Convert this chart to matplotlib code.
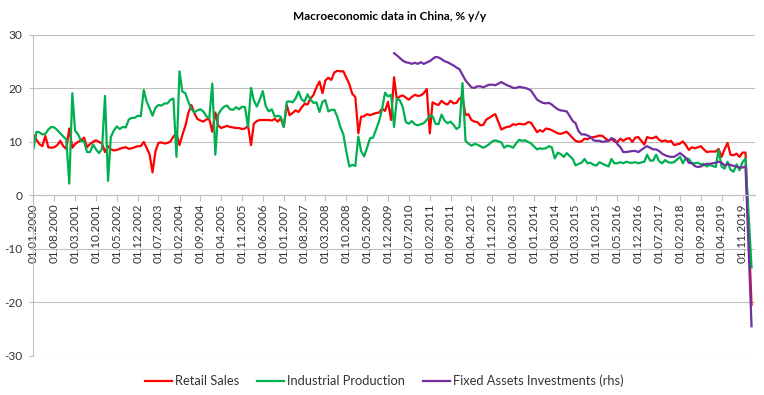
import matplotlib
matplotlib.use('Agg')
import matplotlib.pyplot as plt
import numpy as np
import pandas as pd

plt.rcParams['font.family'] = ['Lato', 'DejaVu Sans']
plt.rcParams['axes.unicode_minus'] = False

nan = np.nan

# monthly, % y/y, Jan 2000 .. Feb 2020
retail_sales = [
    11.3, 10.4, 9.6, 9.2, 11.1, 9.0, 8.9, 9.0, 9.4, 10.2, 9.2, 8.7,        # 2000
    12.5, 8.9, 9.6, 10.0, 10.3, 10.8, 9.0, 9.6, 10.0, 10.3, 10.0, 9.7,     # 2001
    8.1, 9.2, 8.6, 8.4, 8.5, 8.7, 8.9, 9.0, 8.7, 8.8, 9.0, 9.2,            # 2002
    9.2, 10.0, 8.9, 7.7, 4.3, 8.3, 9.8, 9.9, 9.7, 9.8, 10.1, 11.0,         # 2003
    11.6, 9.4, 11.3, 13.0, 15.4, 16.9, 15.4, 14.3, 14.0, 13.8, 14.2, 14.3, # 2004
    11.9, 15.5, 13.1, 12.6, 12.8, 13.0, 12.8, 12.7, 12.6, 12.6, 12.4, 12.5,
    13.0, 9.4, 13.4, 13.9, 14.1, 14.1, 14.1, 14.1, 14.0, 14.3, 13.8, 14.4,
    12.8, 16.9, 15.0, 15.4, 15.9, 15.6, 16.4, 17.1, 17.0, 18.1, 18.8, 20.2,
    21.3, 19.1, 21.5, 22.0, 21.6, 23.0, 23.3, 23.2, 23.2, 22.0, 20.8, 19.0,
    18.4, 11.6, 14.7, 14.8, 15.2, 15.0, 15.2, 15.4, 15.5, 16.2, 15.8, 17.5,
    14.1, 22.1, 18.0, 18.5, 18.7, 18.3, 17.9, 18.4, 18.8, 18.6, 18.7, 19.1, # 2010
    19.9, 11.6, 17.4, 17.1, 16.9, 17.7, 17.2, 17.0, 17.7, 17.2, 17.3, 18.1,
    18.4, 15.0, 15.2, 14.1, 13.8, 13.7, 13.1, 13.2, 14.2, 14.5, 14.9, 15.2,
    nan, 12.3, 12.6, 12.8, 12.9, 13.3, 13.2, 13.4, 13.3, 13.3, 13.7, 13.6,
    nan, 11.8, 12.2, 11.9, 12.5, 12.4, 12.2, 11.9, 11.6, 11.5, 11.7, 11.9,
    nan, 10.7, 10.2, 10.0, 10.1, 10.6, 10.5, 10.8, 10.9, 11.0, 11.2, 11.1,
    nan, 10.2, 10.5, 10.1, 10.0, 10.6, 10.2, 10.6, 10.7, 10.0, 10.8, 10.9,
    nan, 9.5, 10.9, 10.7, 10.7, 11.0, 10.4, 10.1, 10.3, 10.0, 10.2, 9.4,
    nan, 9.7, 10.1, 9.4, 8.5, 9.0, 8.8, 9.0, 9.2, 8.6, 8.1, 8.2,
    nan, 8.2, 8.7, 7.2, 8.6, 9.8, 7.6, 7.5, 7.8, 7.2, 8.0, 8.0,            # 2019
    nan, -20.5,                                                            # 2020
]

industrial_production = [
    8.8, 11.9, 11.8, 11.4, 11.5, 12.3, 12.8, 12.7, 12.2, 11.6, 11.0, 10.5,
    2.2, 19.1, 12.1, 11.4, 10.2, 10.1, 8.1, 8.1, 9.5, 8.6, 7.9, 8.7,
    18.6, 2.7, 10.9, 12.1, 12.9, 12.4, 12.8, 12.7, 14.2, 14.5, 14.5, 14.9,
    14.8, 19.7, 17.6, 16.3, 14.9, 16.4, 16.9, 16.8, 17.2, 17.2, 17.9, 18.1,
    7.2, 23.2, 19.4, 19.1, 17.5, 16.2, 15.5, 15.9, 16.1, 15.7, 14.8, 14.4,
    20.9, 7.6, 15.1, 16.0, 16.6, 16.8, 16.1, 16.0, 16.5, 16.1, 16.6, 16.5,
    12.8, 20.1, 17.8, 16.6, 17.9, 19.5, 16.7, 15.7, 16.1, 14.7, 14.9, 14.7,
    12.8, 17.5, 17.6, 17.4, 18.1, 19.4, 18.0, 17.5, 18.9, 17.9, 17.3, 17.4,
    15.6, 17.5, 17.8, 15.7, 16.0, 16.0, 14.7, 12.8, 11.4, 8.2, 5.4, 5.7,
    5.5, 11.0, 8.3, 7.3, 8.9, 10.7, 10.8, 12.3, 13.9, 16.1, 19.2, 18.5,
    18.8, 12.8, 18.1, 17.8, 16.5, 13.7, 13.4, 13.9, 13.3, 13.1, 13.3, 13.5,
    14.1, 14.9, 14.8, 13.4, 13.3, 15.1, 14.0, 13.5, 13.8, 13.2, 12.4, 12.8,
    21.0, 10.2, 9.7, 9.3, 9.6, 9.5, 9.2, 8.9, 9.2, 9.6, 10.1, 10.3,
    nan, 9.9, 8.9, 9.3, 9.2, 8.9, 9.7, 10.4, 10.2, 10.3, 10.0, 9.7,
    nan, 8.6, 8.8, 8.7, 8.8, 9.2, 9.0, 6.9, 8.0, 7.7, 7.2, 7.9,
    nan, 6.8, 5.6, 5.9, 6.1, 6.8, 6.0, 6.1, 5.7, 5.6, 6.2, 5.9,
    nan, 5.4, 6.8, 6.0, 6.0, 6.2, 6.0, 6.3, 6.1, 6.1, 6.2, 6.0,
    nan, 6.3, 7.6, 6.5, 6.5, 7.6, 6.4, 6.0, 6.6, 6.2, 6.1, 6.2,
    nan, 7.2, 6.0, 7.0, 6.8, 6.0, 6.0, 6.1, 5.8, 5.9, 5.4, 5.7,
    nan, 5.3, 8.5, 5.4, 5.0, 6.3, 4.8, 4.4, 5.8, 4.7, 6.2, 6.9,
    nan, -13.5,
]

# year-to-date, Jan 2010 .. Feb 2020
fixed_assets = [
    nan, 26.6, 26.2, 25.7, 25.2, 24.9, 24.8, 24.6, 24.8, 24.6, 24.9, 24.6,
    nan, 25.1, 25.5, 25.9, 25.8, 25.5, 25.1, 24.9, 24.6, 24.3, 23.9, 23.6,
    nan, 21.5, 20.9, 20.2, 20.1, 20.4, 20.4, 20.2, 20.5, 20.7, 20.7, 20.6,
    nan, 21.2, 20.9, 20.6, 20.4, 20.1, 20.1, 20.3, 20.2, 20.1, 19.9, 19.6,
    nan, 17.9, 17.6, 17.3, 17.2, 17.3, 17.0, 16.5, 16.1, 15.9, 15.8, 15.7,
    nan, 13.9, 13.5, 12.0, 11.4, 11.4, 11.2, 10.9, 10.3, 10.2, 10.2, 10.0,
    nan, 10.2, 10.7, 10.5, 9.6, 9.0, 8.1, 8.1, 8.2, 8.3, 8.3, 8.1,
    nan, 8.9, 9.2, 8.9, 8.6, 8.6, 8.3, 7.8, 7.5, 7.3, 7.2, 7.2,
    nan, 7.9, 7.5, 7.0, 6.1, 6.0, 5.5, 5.3, 5.4, 5.7, 5.9, 5.9,
    nan, 6.1, 6.3, 6.1, 5.6, 5.8, 5.7, 5.5, 5.4, 5.2, 5.2, 5.4,
    nan, -24.5,
]

dates = pd.date_range('2000-01-01', periods=len(retail_sales), freq='MS')
fai_dates = pd.date_range('2010-01-01', periods=len(fixed_assets), freq='MS')
tick_dates = pd.date_range('2000-01-01', '2019-11-01', freq='7MS')
y_ticks = [-30, -20, -10, 0, 10, 20, 30]

fig = plt.figure(figsize=(7.64, 3.95), dpi=100)
ax = fig.add_axes([0.0438, 0.0995, 0.944, 0.8119])

series = [
    (dates, retail_sales, '#ff0000', 'Retail Sales'),
    (dates, industrial_production, '#00b050', 'Industrial Production'),
    (fai_dates, fixed_assets, '#7030a0', 'Fixed Assets Investments (rhs)'),
]
for x, y, col, name in series:
    # missing months are skipped, line is joined across them (like excel)
    s = pd.Series(y, index=x).dropna()
    ax.plot(s.index, s.values, color=col, lw=1.6, label=name, solid_joinstyle='round')

ax.set_ylim(-30, 30)
ax.set_xlim(pd.Timestamp('2000-01-01'), pd.Timestamp('2020-03-04'))
ax.set_yticks(y_ticks)
ax.set_yticklabels([str(v) for v in y_ticks])
ax.set_xticks(tick_dates)
ax.set_xticklabels([d.strftime('%d.%m.%Y') for d in tick_dates])

ax.yaxis.grid(True, color='#bfbfbf', lw=0.8)
ax.set_axisbelow(True)
for side in ['top', 'right']:
    ax.spines[side].set_visible(False)
ax.spines['bottom'].set_position(('data', 0))
ax.spines['bottom'].set_color('#bfbfbf')
ax.spines['left'].set_color('#bfbfbf')
ax.tick_params(axis='x', direction='out', length=4, width=0.8, color='#bfbfbf',
               labelsize=8.4, labelcolor='#333333', pad=2, labelrotation=90)
ax.tick_params(axis='y', direction='out', length=3, width=0.8, color='#bfbfbf',
               labelsize=8.6, labelcolor='#333333', pad=5)

fig.text(0.51, 0.959, 'Macroeconomic data in China, % y/y', ha='center', va='center',
         fontsize=8.6, fontweight='bold', color='#000000')

h, l = ax.get_legend_handles_labels()
fig.legend(h, l, loc='center', bbox_to_anchor=(0.503, 0.035), ncol=3, frameon=False,
           fontsize=9.3, handlelength=2.1, handletextpad=0.2, columnspacing=1.4,
           labelcolor='#333333')

fig.savefig('out.png', dpi=100)
